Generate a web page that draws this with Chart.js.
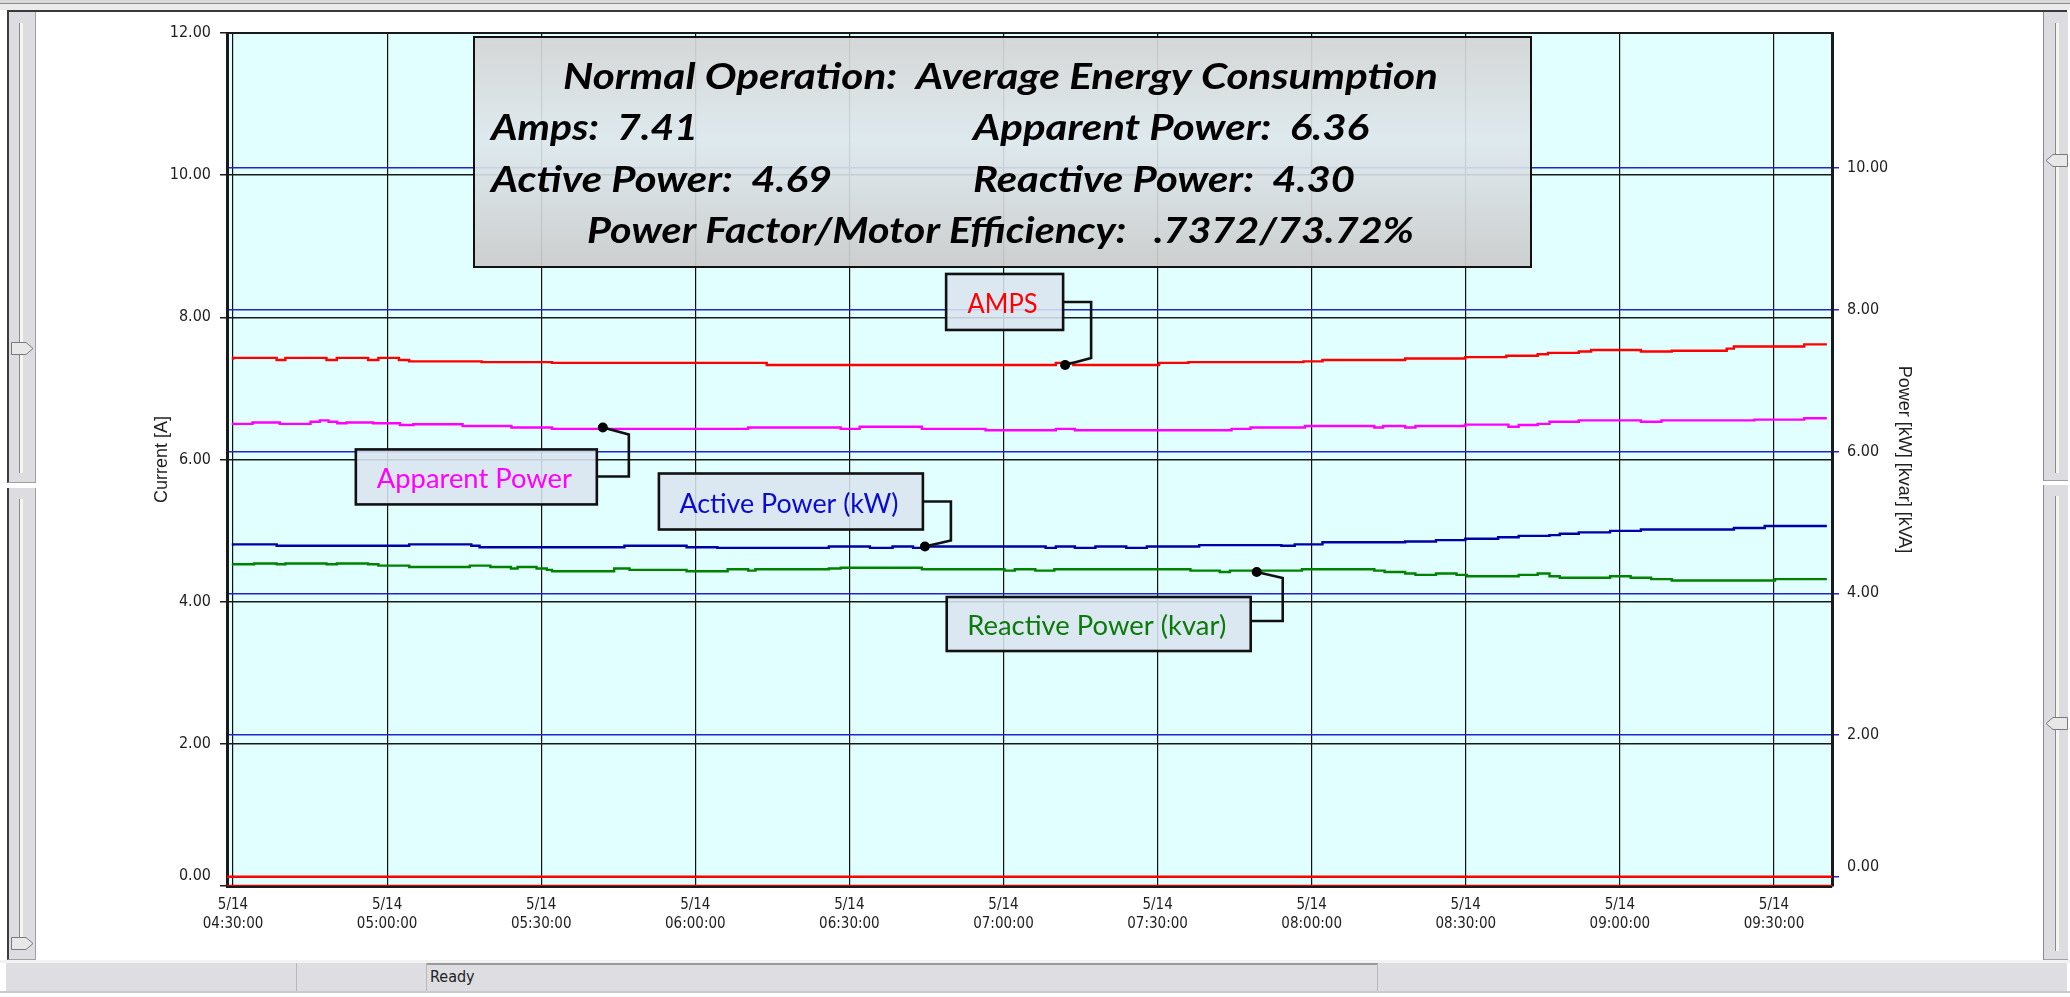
<!DOCTYPE html>
<html>
<head>
<meta charset="utf-8">
<script src="https://cdn.jsdelivr.net/npm/chart.js@4.4.1/dist/chart.umd.min.js"></script>
<style>
html, body { margin: 0; padding: 0; background: #fff; overflow: hidden; }
#wrap { position: relative; width: 2070px; height: 997px; }
#wrap div, #wrap svg { position: absolute; }
.panel { width: 29px; background: #dcdce1; border-left: 2px solid #3c3c3c; border-right: 1px solid #a0a0a0; border-bottom: 1px solid #a0a0a0; box-sizing: border-box; }
.rpanel { width: 25px; background: #dcdce1; border-left: 1px solid #8a8a8a; border-bottom: 1px solid #a0a0a0; box-sizing: border-box; }
.track { width: 4px; background: #f6f5ee; border-left: 1px solid #8a8a8a; box-sizing: border-box; }
.sb { top: 963px; height: 28px; background: #dedee2; border-right: 1px solid #b8b8bc; box-sizing: border-box; }
canvas { position: absolute; left: 0; top: 0; }
</style>
</head>
<body>
<div id="wrap">
  <div style="left:0;top:0;width:2070px;height:3px;background:#d8d8d8"></div>
  <div style="left:0;top:3px;width:2070px;height:1px;background:#8c8c8c"></div>
  <div style="left:0;top:4px;width:2070px;height:6px;background:#ebebeb"></div>
  <div style="left:7px;top:10px;width:2060px;height:2px;background:#3a3a3a"></div>

  <div class="panel" style="left:7px;top:12px;height:471px"><div class="track" style="left:10px;top:11px;height:450px"></div></div>
  <div class="panel" style="left:7px;top:488px;height:472px"><div class="track" style="left:10px;top:11px;height:440px"></div></div>
  <div class="rpanel" style="left:2043px;top:12px;height:469px"><div class="track" style="left:11px;top:11px;height:450px"></div></div>
  <div class="rpanel" style="left:2043px;top:485px;height:475px"><div class="track" style="left:11px;top:11px;height:455px"></div></div>

  <svg style="left:11px;top:342px" width="24" height="13"><polygon points="0.5,0.5 15,0.5 22,6.5 15,12.5 0.5,12.5" fill="#e8e8e8" stroke="#7a7a7a"/></svg>
  <svg style="left:11px;top:937px" width="24" height="13"><polygon points="0.5,0.5 15,0.5 22,6.5 15,12.5 0.5,12.5" fill="#e8e8e8" stroke="#7a7a7a"/></svg>
  <svg style="left:2045px;top:154px" width="24" height="13"><polygon points="22.5,0.5 8,0.5 1,6.5 8,12.5 22.5,12.5" fill="#e8e8e8" stroke="#7a7a7a"/></svg>
  <svg style="left:2045px;top:717px" width="24" height="13"><polygon points="22.5,0.5 8,0.5 1,6.5 8,12.5 22.5,12.5" fill="#e8e8e8" stroke="#7a7a7a"/></svg>

  <div style="left:0;top:960px;width:2070px;height:3px;background:#f2f2f2"></div>
  <div class="sb" style="left:6px;width:291px"></div>
  <div class="sb" style="left:297px;width:130px"></div>
  <div class="sb" style="left:427px;width:951px;border-top:2px solid #9a9a9a"></div>
  <div class="sb" style="left:1378px;width:689px;border-right:none"></div>
  <div style="left:0;top:991px;width:2070px;height:2px;background:#c9c9d2"></div>
  <div style="left:430px;top:967px;font:16px 'Liberation Sans Narrow','DejaVu Sans Condensed',sans-serif;color:#222">Ready</div>

  <canvas id="graphic" width="2070" height="997"></canvas>
</div>
<script>
var ctx = document.getElementById('graphic').getContext('2d');

// time = minutes after 5/14 04:30:00
var xMin = -1.17, xMax = 311.3;
var tickMinutes = [0, 30, 60, 90, 120, 150, 180, 210, 240, 270, 300];
var tickLabels = [['5/14', '04:30:00'], ['5/14', '05:00:00'], ['5/14', '05:30:00'], ['5/14', '06:00:00'],
    ['5/14', '06:30:00'], ['5/14', '07:00:00'], ['5/14', '07:30:00'], ['5/14', '08:00:00'],
    ['5/14', '08:30:00'], ['5/14', '09:00:00'], ['5/14', '09:30:00']];
var currentTicks = [0, 2, 4, 6, 8, 10, 12];
var powerTicks = [0, 2, 4, 6, 8, 10];

// each value holds from its time until the next one
var ampsTime = [0, 8.5, 10.2, 18.2, 20.2, 26.3, 28.3, 32.3, 34.3, 48.4, 62.1, 103.9, 160.2, 163.6, 180.3, 186.0,
    208.4, 212.1, 228.2, 239.9, 247.9, 254.0, 256.0, 262.0, 264.4, 274.1, 280.1, 290.8, 292.2, 305.9, 308.3, 310.3];
var ampsValue = [7.40, 7.43, 7.40, 7.43, 7.40, 7.43, 7.40, 7.43, 7.40, 7.38, 7.37, 7.36, 7.33, 7.36, 7.33, 7.36,
    7.37, 7.38, 7.40, 7.42, 7.44, 7.46, 7.48, 7.50, 7.52, 7.54, 7.52, 7.53, 7.56, 7.59, 7.62, 7.62];

var apparentTime = [0, 3.8, 9.1, 15.1, 16.9, 18.6, 20.3, 22.1, 27.3, 32.5, 35.1, 44.7, 54.2, 62.1, 100.3, 118.3,
    122.0, 134.1, 146.5, 160.2, 163.9, 194.4, 198.1, 208.7, 222.2, 223.9, 228.2, 230.2, 239.9, 248.3, 250.3, 254.0,
    256.3, 262.0, 274.1, 278.1, 296.2, 305.9, 307.9, 310.3];
var apparentValue = [6.41, 6.39, 6.41, 6.39, 6.42, 6.44, 6.42, 6.40, 6.41, 6.40, 6.375, 6.385, 6.36, 6.34, 6.32, 6.34,
    6.32, 6.35, 6.32, 6.30, 6.32, 6.30, 6.32, 6.34, 6.36, 6.34, 6.36, 6.34, 6.36, 6.38, 6.35, 6.375,
    6.39, 6.42, 6.44, 6.42, 6.44, 6.45, 6.47, 6.47];

var activeTime = [0, 8.5, 34.3, 46.4, 48.0, 76.2, 88.3, 94.3, 116.0, 124.0, 128.4, 132.4, 134.8, 158.2, 160.2, 163.9,
    167.9, 173.9, 177.9, 188.1, 204.1, 206.7, 212.1, 228.2, 234.2, 239.9, 246.3, 250.3, 256.3, 258.3, 262.0, 268.1,
    274.1, 292.2, 298.2, 306.2, 310.3];
var activeValue = [4.67, 4.69, 4.67, 4.69, 4.67, 4.65, 4.67, 4.65, 4.64, 4.66, 4.64, 4.66, 4.64, 4.66, 4.64, 4.66,
    4.64, 4.66, 4.64, 4.66, 4.68, 4.67, 4.69, 4.72, 4.73, 4.75, 4.77, 4.79, 4.81, 4.82, 4.84, 4.86,
    4.88, 4.90, 4.92, 4.95, 4.95];

var reactiveTime = [0, 4.1, 8.5, 10.2, 18.2, 20.2, 26.3, 28.3, 34.3, 46.1, 50.1, 54.1, 55.4, 59.1, 61.1, 62.1,
    74.2, 77.2, 88.3, 96.3, 100.3, 101.7, 116.0, 118.3, 134.1, 150.2, 152.2, 156.2, 159.9, 186.4, 192.1, 194.1,
    208.1, 222.2, 224.2, 228.2, 230.2, 234.2, 238.2, 240.2, 250.3, 254.0, 256.3, 258.3, 268.1, 272.1, 276.1, 280.1,
    300.2, 306.2, 310.3];
var reactiveValue = [4.42, 4.41, 4.42, 4.41, 4.42, 4.41, 4.42, 4.41, 4.39, 4.37, 4.39, 4.37, 4.35, 4.37, 4.35, 4.33,
    4.31, 4.35, 4.33, 4.31, 4.34, 4.32, 4.34, 4.35, 4.36, 4.34, 4.32, 4.34, 4.32, 4.34, 4.32, 4.30,
    4.32, 4.34, 4.32, 4.30, 4.28, 4.26, 4.28, 4.26, 4.24, 4.26, 4.28, 4.24, 4.22, 4.24, 4.22, 4.20,
    4.18, 4.20, 4.20];

var zeroTime = [xMin, xMax];
var zeroValue = [0, 0];

var summaryLines = ['Normal Operation:  Average Energy Consumption', 'Amps:  7.41', 'Apparent Power:  6.36',
    'Active Power:  4.69', 'Reactive Power:  4.30', 'Power Factor/Motor Efficiency:   .7372/73.72%'];

function points(times, values) {
    return times.map(function (t, i) { return { x: t, y: values[i] }; });
}

function valueAt(times, values, t) {
    var v = values[0];
    for (var i = 0; i < times.length; i++) { if (times[i] <= t) v = values[i]; }
    return v;
}

// the bottom label of each value axis sits a little above its tick
function axisLabel(v) {
    return v === 0 ? ['0.00', ''] : v.toFixed(2);
}

var narrow = "'Liberation Sans Narrow', 'DejaVu Sans Condensed', 'Liberation Sans', sans-serif";

function fitText(c, text, x, y, w, font, color) {
    c.save();
    c.font = font;
    c.fillStyle = color;
    c.textAlign = 'left';
    c.textBaseline = 'alphabetic';
    var m = c.measureText(text).width;
    c.translate(x, y);
    c.scale(w / m, 1);
    c.fillText(text, 0, 0);
    c.restore();
}

// label boxes with leader lines: offsets in pixels from the dot on the line
var callouts = [
    { text: 'AMPS', color: '#ff0000', times: ampsTime, values: ampsValue, axis: 'y', t: 162.0,
      box: [-119, -91, 117, 56], exitY: -63, knee: [26, -7], textW: 70 },
    { text: 'Apparent Power', color: '#ff00ff', times: apparentTime, values: apparentValue, axis: 'y1', t: 72.0,
      box: [-247, 22, 241, 55], exitY: 49, knee: [26, 7], textW: 195 },
    { text: 'Active Power (kW)', color: '#0a0ad0', times: activeTime, values: activeValue, axis: 'y1', t: 134.7,
      box: [-266, -73, 264, 56], exitY: -45, knee: [26, -6], textW: 219 },
    { text: 'Reactive Power (kvar)', color: '#0b7a0b', times: reactiveTime, values: reactiveValue, axis: 'y1', t: 199.3,
      box: [-310, 25, 304, 54], exitY: 49, knee: [26, 6], textW: 259 }
];

var decorations = {
    id: 'decorations',
    beforeDraw: function (chart) {
        var c = chart.ctx, a = chart.chartArea;
        c.save();
        c.fillStyle = '#e1ffff';
        c.fillRect(a.left, a.top, a.right - a.left, a.bottom - a.top);
        c.restore();
    },
    afterDatasetsDraw: function (chart) {
        var c = chart.ctx, a = chart.chartArea;
        c.save();
        c.strokeStyle = '#1a1a1a';
        c.lineWidth = 2;
        c.beginPath();
        c.moveTo(a.left, a.top);
        c.lineTo(a.right, a.top);
        c.stroke();

        // summary box
        var bx = a.left + 247, by = a.top + 4, bw = 1057, bh = 230;
        var g = c.createLinearGradient(0, by, 0, by + bh);
        g.addColorStop(0, 'rgba(212,212,212,0.93)');
        g.addColorStop(0.45, 'rgba(222,231,236,0.9)');
        g.addColorStop(1, 'rgba(203,203,203,0.93)');
        c.fillStyle = g;
        c.fillRect(bx, by, bw, bh);
        c.lineWidth = 2;
        c.strokeStyle = '#111';
        c.strokeRect(bx, by, bw, bh);
        var bold = 'italic bold 37px Lato, "Open Sans", sans-serif';
        fitText(c, summaryLines[0], bx + 89, by + 52, 875, bold, '#000');
        fitText(c, summaryLines[1], bx + 17, by + 103, 207, bold, '#000');
        fitText(c, summaryLines[2], bx + 499, by + 103, 396, bold, '#000');
        fitText(c, summaryLines[3], bx + 17, by + 155, 341, bold, '#000');
        fitText(c, summaryLines[4], bx + 499, by + 155, 382, bold, '#000');
        fitText(c, summaryLines[5], bx + 113, by + 206, 827, bold, '#000');

        callouts.forEach(function (k) {
            var px = chart.scales.x.getPixelForValue(k.t);
            var py = chart.scales[k.axis].getPixelForValue(valueAt(k.times, k.values, k.t));
            var x0 = px + k.box[0], y0 = py + k.box[1], w = k.box[2], h = k.box[3];
            c.fillStyle = 'rgba(218,229,240,0.88)';
            c.fillRect(x0, y0, w, h);
            c.lineWidth = 2.6;
            c.strokeStyle = '#111';
            c.strokeRect(x0, y0, w, h);
            c.beginPath();
            c.moveTo(x0 + w, py + k.exitY);
            c.lineTo(px + k.knee[0], py + k.exitY);
            c.lineTo(px + k.knee[0], py + k.knee[1]);
            c.lineTo(px, py);
            c.stroke();
            c.fillStyle = '#000';
            c.beginPath();
            c.arc(px, py, 5, 0, Math.PI * 2);
            c.fill();
            fitText(c, k.text, x0 + w / 2 - 2 - k.textW / 2, y0 + h / 2 + 11, k.textW,
                '26px Lato, "Open Sans", sans-serif', k.color);
        });
        c.restore();
    }
};

var seriesStyle = { stepped: 'after', pointRadius: 0, borderWidth: 2.4, fill: false };

var graphic = new Chart(ctx, {
    type: 'line',
    data: {
        datasets: [
            Object.assign({ label: 'Current L0', data: points(zeroTime, zeroValue), yAxisID: 'y', borderColor: '#e00000' }, seriesStyle),
            Object.assign({ label: 'Power zero', data: points(zeroTime, zeroValue), yAxisID: 'y1', borderColor: '#ff0000' }, seriesStyle),
            Object.assign({ label: 'Apparent Power', data: points(apparentTime, apparentValue), yAxisID: 'y1', borderColor: '#ff00ff' }, seriesStyle),
            Object.assign({ label: 'Reactive Power (kvar)', data: points(reactiveTime, reactiveValue), yAxisID: 'y1', borderColor: '#008200' }, seriesStyle),
            Object.assign({ label: 'Active Power (kW)', data: points(activeTime, activeValue), yAxisID: 'y1', borderColor: '#0000a8' }, seriesStyle),
            Object.assign({ label: 'AMPS', data: points(ampsTime, ampsValue), yAxisID: 'y', borderColor: '#ff0000' }, seriesStyle)
        ]
    },
    options: {
        responsive: false,
        animation: false,
        events: [],
        layout: { padding: { left: 152, right: 156, top: 33, bottom: 51 } },
        plugins: { legend: { display: false }, tooltip: { enabled: false } },
        scales: {
            x: {
                type: 'linear',
                min: xMin,
                max: xMax,
                afterBuildTicks: function (s) { s.ticks = tickMinutes.map(function (v) { return { value: v }; }); },
                afterFit: function (s) { s.height = 60; },
                grid: { color: '#111', lineWidth: 1.2, drawTicks: false },
                border: { display: true, color: '#1a1a1a', width: 3 },
                ticks: {
                    autoSkip: false, maxRotation: 0, padding: 9, color: '#1e1e1e',
                    font: { family: narrow, size: 15, lineHeight: 1.3 },
                    callback: function (v, i) { return tickLabels[i]; }
                }
            },
            y: {
                position: 'left',
                min: 0,
                max: 12,
                afterBuildTicks: function (s) { s.ticks = currentTicks.map(function (v) { return { value: v }; }); },
                afterFit: function (s) { s.width = 75; },
                grid: { color: '#1a1a1a', lineWidth: 1.5, tickLength: 7 },
                border: { display: true, color: '#1a1a1a', width: 3 },
                title: { display: true, text: 'Current [A]', color: '#222', padding: 0,
                    font: { family: "'Liberation Sans', sans-serif", size: 18, lineHeight: 1.1 } },
                ticks: { padding: 9, color: '#1e1e1e', font: { family: narrow, size: 16, lineHeight: 1.3 },
                    callback: axisLabel }
            },
            y1: {
                position: 'right',
                min: -0.13,
                max: 11.905,
                afterBuildTicks: function (s) { s.ticks = powerTicks.map(function (v) { return { value: v }; }); },
                afterFit: function (s) { s.width = 82; },
                grid: { color: '#2424c8', lineWidth: 1.5, tickLength: 7 },
                border: { display: true, color: '#1a1a1a', width: 3 },
                title: { display: true, text: 'Power [kW] [kvar] [kVA]', color: '#222', padding: 0,
                    font: { family: "'Liberation Sans', sans-serif", size: 18, lineHeight: 1.1 } },
                ticks: { padding: 8, color: '#1e1e1e', font: { family: narrow, size: 16, lineHeight: 1.3 },
                    callback: axisLabel }
            }
        }
    },
    plugins: [decorations]
});
</script>
</body>
</html>
